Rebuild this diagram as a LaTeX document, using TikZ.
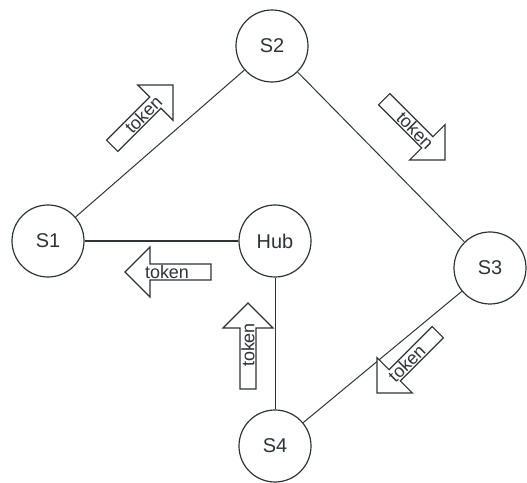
\documentclass[tikz,border=0pt]{standalone}
\usepackage{fontspec}
\setmainfont{Liberation Sans}
\definecolor{ink}{HTML}{2E3436}
\tikzset{
  station/.style={circle, draw=ink, line width=1.2bp, minimum size=72bp, inner sep=0pt,
    font=\fontsize{20}{20}\selectfont, text=ink},
  link/.style={draw=ink, line width=1bp},
  hublink/.style={draw=ink, line width=2.6bp},
  tokshape/.style={draw=ink, line width=1.2bp, fill=white, line join=miter},
  toktext/.style={font=\fontsize{18}{18}\selectfont, text=ink, inner sep=0pt}
}
% hollow block arrow with "token" written in its shaft; #1 = tip, #2 = heading, #3 = text angle, #4 = name
\newcommand{\tokenarrow}[4]{%
  \begin{scope}[shift={#1}, rotate=#2]
    \draw[tokshape] (0,0) -- (-25,25) -- (-25,8) -- (-86,8) -- (-86,-8) -- (-25,-8) -- (-25,-25) -- cycle;
    \node[toktext, rotate=#3] (#4) at (-42,0) {token};
  \end{scope}}
\begin{document}
\begin{tikzpicture}[x=1bp, y=1bp]
  \useasboundingbox (0,0) rectangle (527,483);
  % stations of the ring and the hub
  \node[station] (s1)  at (48,242)  {S1};
  \node[station] (s2)  at (272,437) {S2};
  \node[station] (s3)  at (490,215) {S3};
  \node[station] (s4)  at (275,37)  {S4};
  \node[station] (hub) at (275,242) {Hub};
  % ring links
  \draw[link] (s1) -- (s2);
  \draw[link] (s2) -- (s3);
  \draw[link] (s3) -- (s4);
  \draw[link] (s4) -- (hub);
  \draw[hublink] (hub) -- (s1);
  % token passing direction
  \tokenarrow{(173,398)}{45}{45}{t12}
  \tokenarrow{(445,323)}{-45}{-45}{t23}
  \tokenarrow{(377,90)}{-135}{45}{t34}
  \tokenarrow{(248,180)}{90}{90}{t4h}
  \tokenarrow{(125,211)}{180}{0}{th1}
\end{tikzpicture}
\end{document}
